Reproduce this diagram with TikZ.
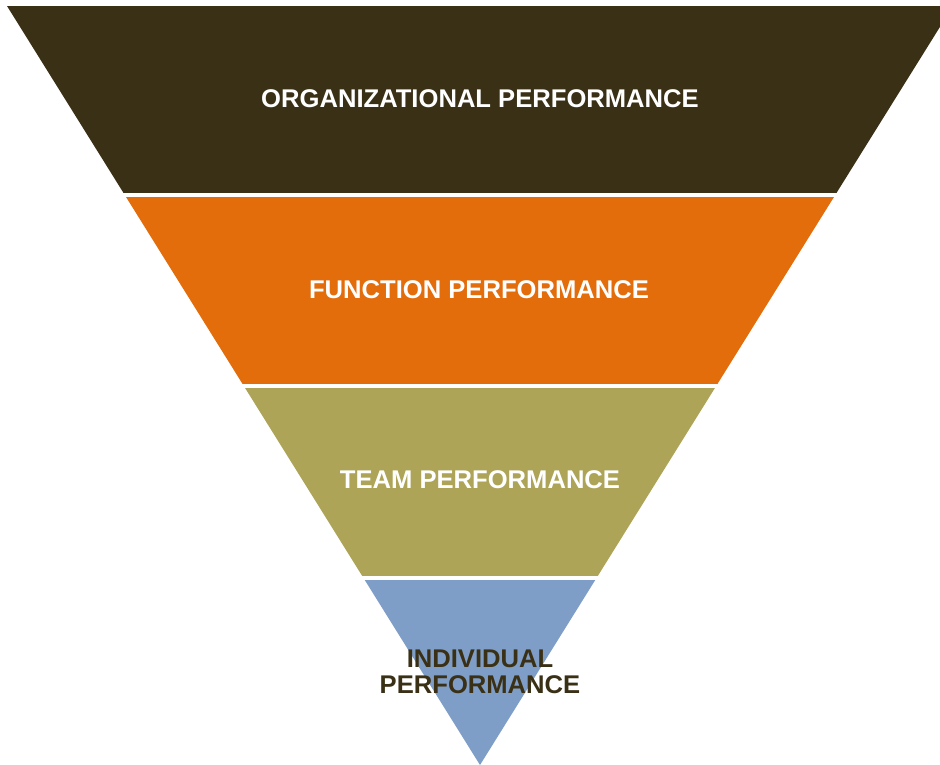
\documentclass[tikz,border=0pt]{standalone}
\usepackage{fontspec}
\setmainfont{Liberation Sans}
\definecolor{orgbrown}{HTML}{3A3016}
\definecolor{funcorange}{HTML}{E36C0B}
\definecolor{teamolive}{HTML}{ADA457}
\definecolor{indblue}{HTML}{7F9EC7}
\tikzset{
  bandlabel/.style={font=\fontsize{25.6}{26}\selectfont\bfseries, text=white, align=center, inner sep=0pt},
  darklabel/.style={bandlabel, text=orgbrown}
}
\begin{document}
\begin{tikzpicture}[x=1pt,y=-1pt]
  \useasboundingbox (0,0) rectangle (940,765);
  \clip (0,0) rectangle (940,765);
  % inverted funnel: four stacked bands inside one triangle
  \begin{scope}
    \clip (7,6) -- (953,6) -- (480,765) -- cycle;
    \fill[orgbrown]   (0,6)   rectangle (960,193);
    \fill[funcorange] (0,197) rectangle (960,384);
    \fill[teamolive]  (0,388) rectangle (960,576);
    \fill[indblue]    (0,580) rectangle (960,770);
  \end{scope}
  \node[bandlabel] (org)  at (480,98.5) {ORGANIZATIONAL PERFORMANCE};
  \node[bandlabel] (func) at (479,289.5) {FUNCTION PERFORMANCE};
  \node[bandlabel] (team) at (480,480) {TEAM PERFORMANCE};
  \node[darklabel] (ind)  at (480,671.5) {INDIVIDUAL\\PERFORMANCE};
\end{tikzpicture}
\end{document}
